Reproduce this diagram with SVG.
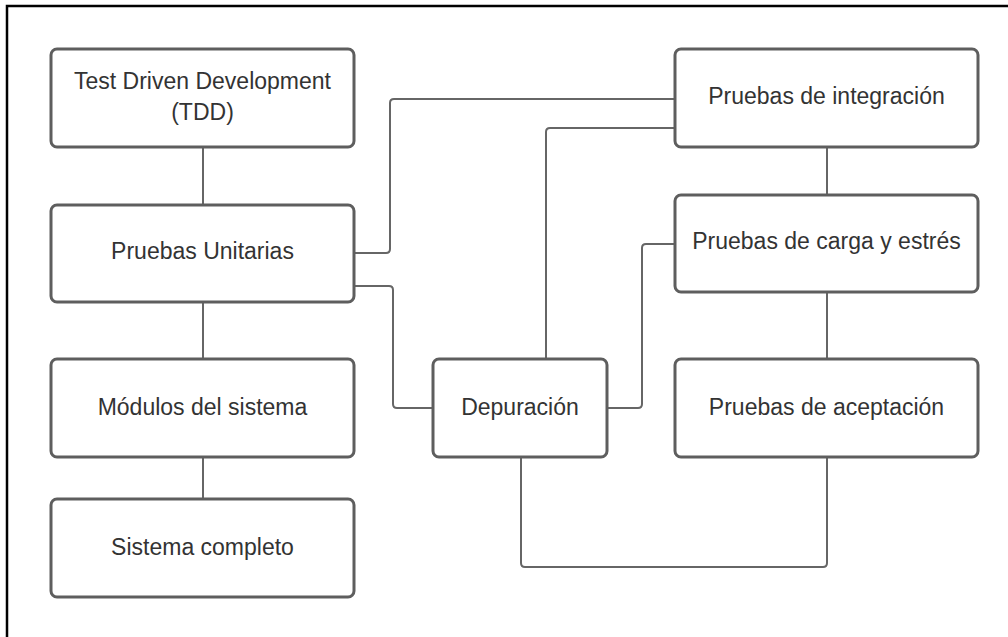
<svg xmlns="http://www.w3.org/2000/svg" width="1008" height="637" viewBox="0 0 1008 637">
<style>
.box{fill:#fff;stroke:#5e5e5e;stroke-width:3}
.lbl{font-family:"Liberation Sans",Arial,sans-serif;font-size:23px;fill:#333;text-anchor:middle}
.con{fill:none;stroke:#666;stroke-width:2;stroke-linejoin:round}
</style>
<rect x="0" y="0" width="1008" height="637" fill="#fff"/>
<path d="M7,640 V6 H1010" fill="none" stroke="#000" stroke-width="2.5"/>
<g id="connectors">
<path class="con" d="M203,147 V205"/>
<path class="con" d="M203,302 V359"/>
<path class="con" d="M203,457 V499"/>
<path class="con" d="M827,147 V195"/>
<path class="con" d="M827,292 V359"/>
<path class="con" d="M354,253 H386 Q390,253 390,249 V103 Q390,99 394,99 H675"/>
<path class="con" d="M675,128 H550 Q546,128 546,132 V359"/>
<path class="con" d="M354,286 H389 Q393,286 393,290 V404 Q393,408 397,408 H433"/>
<path class="con" d="M607,408 H638 Q642,408 642,404 V248 Q642,244 646,244 H675"/>
<path class="con" d="M521,457 V563 Q521,567 525,567 H823 Q827,567 827,563 V457"/>
</g>
<g id="tdd"><rect class="box" x="51" y="49" width="303" height="98" rx="6"/><text class="lbl" x="202.5" y="89">Test Driven Development</text><text class="lbl" x="202.5" y="120">(TDD)</text></g>
<g id="unitarias"><rect class="box" x="51" y="205" width="303" height="97" rx="6"/><text class="lbl" x="202.5" y="259">Pruebas Unitarias</text></g>
<g id="modulos"><rect class="box" x="51" y="359" width="303" height="98" rx="6"/><text class="lbl" x="202.5" y="415">Módulos del sistema</text></g>
<g id="sistema"><rect class="box" x="51" y="499" width="303" height="98" rx="6"/><text class="lbl" x="202.5" y="555">Sistema completo</text></g>
<g id="depuracion"><rect class="box" x="433" y="359" width="174" height="98" rx="6"/><text class="lbl" x="520" y="415">Depuración</text></g>
<g id="integracion"><rect class="box" x="675" y="49" width="303" height="98" rx="6"/><text class="lbl" x="826.5" y="104">Pruebas de integración</text></g>
<g id="carga"><rect class="box" x="675" y="195" width="303" height="97" rx="6"/><text class="lbl" x="826.5" y="249">Pruebas de carga y estrés</text></g>
<g id="aceptacion"><rect class="box" x="675" y="359" width="303" height="98" rx="6"/><text class="lbl" x="826.5" y="415">Pruebas de aceptación</text></g>
</svg>
